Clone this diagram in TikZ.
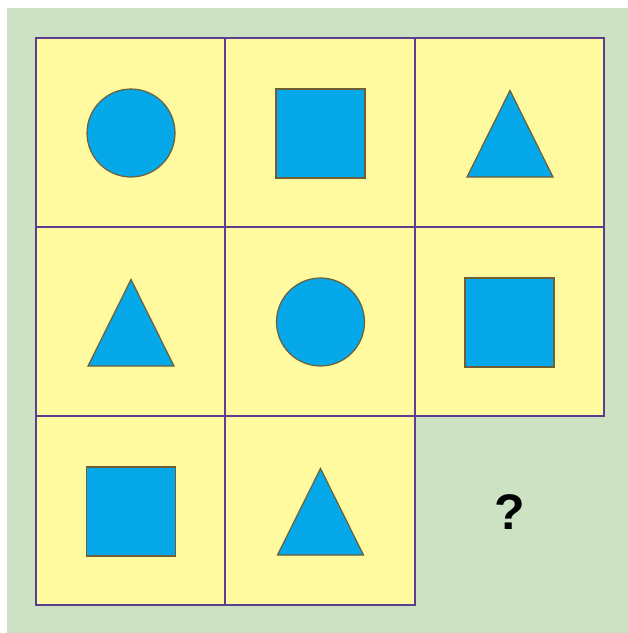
\documentclass[tikz,border=0pt]{standalone}
\usepackage{fontspec}
\setmainfont{Liberation Sans}
\definecolor{bggreen}{RGB}{205,226,195}
\definecolor{cellyellow}{RGB}{255,249,160}
\definecolor{shapeblue}{RGB}{5,168,232}
\definecolor{shapeedge}{RGB}{110,95,55}
\definecolor{gridpurple}{RGB}{92,62,145}
\begin{document}
\begin{tikzpicture}[x=1pt,y=-1pt,
  cellbox/.style={draw=gridpurple,fill=cellyellow,line width=2.2pt},
  shp/.style={draw=shapeedge,fill=shapeblue,line width=1.2pt}]
\useasboundingbox (0,0) rectangle (628,633);
\fill[white] (0,0) rectangle (628,633);
\fill[bggreen] (7,8) rectangle (628,633);
% cells
\foreach \c/\r in {0/0,1/0,2/0,0/1,1/1,2/1,0/2,1/2}{
  \draw[cellbox] ({36+189.3*\c},{38+189*\r}) rectangle ({36+189.3*(\c+1)},{38+189*(\r+1)});
}
% row 1
\node[shp,circle,minimum size=88pt,inner sep=0pt] (c00) at (131,133) {};
\node[shp,rectangle,minimum size=89pt,inner sep=0pt] (s10) at (320.5,133.5) {};
\draw[shp] (510,90.5) -- (553,177) -- (467,177) -- cycle;
% row 2
\draw[shp] (131,279.5) -- (174,366) -- (88,366) -- cycle;
\node[shp,circle,minimum size=88pt,inner sep=0pt] (c11) at (320.5,322) {};
\node[shp,rectangle,minimum size=89pt,inner sep=0pt] (s21) at (509.5,322.5) {};
% row 3
\node[shp,rectangle,minimum size=89pt,inner sep=0pt] (s02) at (131,511.5) {};
\draw[shp] (320.5,468.5) -- (363.5,555) -- (277.5,555) -- cycle;
\node[font=\bfseries\fontsize{50}{50}\selectfont,inner sep=0pt] (q) at (510,512) {?};
\end{tikzpicture}
\end{document}
